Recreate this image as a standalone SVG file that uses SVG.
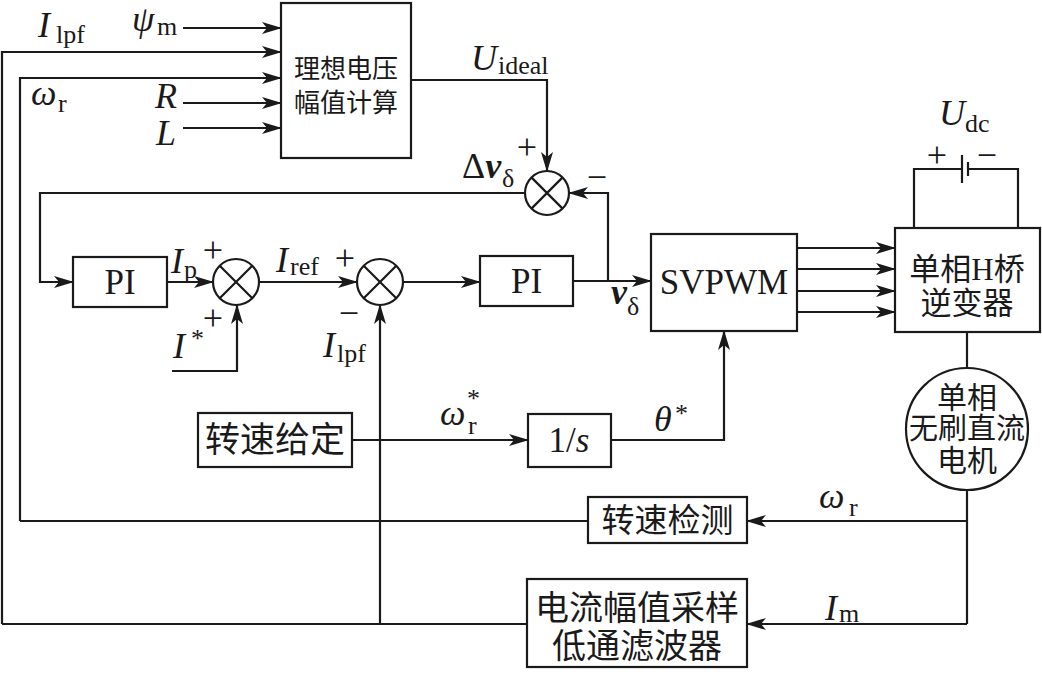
<svg xmlns="http://www.w3.org/2000/svg" width="1042" height="674" viewBox="0 0 1042 674">
<defs>
<style>
.ln{fill:none;stroke:#1a1a1a;stroke-width:2.2}
.box{fill:#fff;stroke:#1a1a1a;stroke-width:2.2}
.arr{fill:none;stroke:#1a1a1a;stroke-width:2.2;marker-end:url(#ah)}
.it{font-family:"Liberation Serif",serif;font-style:italic;font-size:36px;fill:#1a1a1a}
.sub{font-family:"Liberation Serif",serif;font-size:26px;fill:#1a1a1a}
.rm{font-family:"Liberation Serif",serif;font-size:35px;fill:#1a1a1a}
.sg{font-family:"Liberation Serif",serif;font-size:36px;fill:#1a1a1a}
.cn{font-family:"Liberation Serif","Noto Sans CJK SC",serif;fill:#1a1a1a}
</style>
<marker id="ah" viewBox="0 0 20 12" refX="19" refY="6" markerWidth="20" markerHeight="12" markerUnits="userSpaceOnUse" orient="auto">
<path d="M0,0 L20,6 L0,12 L5,6 z" fill="#1a1a1a"/>
</marker>
</defs>
<rect width="1042" height="674" fill="#fff"/>

<g id="connectors">
<line class="arr" x1="183" y1="28" x2="281" y2="28"/>
<polyline class="arr" points="2,624 2,52 281,52"/>
<polyline class="arr" points="20,521 20,78 281,78"/>
<line class="arr" x1="183" y1="103" x2="281" y2="103"/>
<line class="arr" x1="183" y1="128" x2="281" y2="128"/>
<polyline class="arr" points="411,80 547,80 547,171"/>
<polyline class="arr" points="608,281 608,193 569,193"/>
<polyline class="arr" points="525,193 40,193 40,282 73,282"/>
<line class="arr" x1="167" y1="282" x2="213" y2="282"/>
<polyline class="arr" points="172,371 237,371 237,305"/>
<line class="arr" x1="259" y1="282" x2="357" y2="282"/>
<polyline class="arr" points="2,624 380,624 380,305"/>
<line class="arr" x1="403" y1="282" x2="480" y2="282"/>
<line class="arr" x1="573" y1="281" x2="651" y2="281"/>
<line class="arr" x1="797" y1="248" x2="895" y2="248"/>
<line class="arr" x1="797" y1="269" x2="895" y2="269"/>
<line class="arr" x1="797" y1="291" x2="895" y2="291"/>
<line class="arr" x1="797" y1="312" x2="895" y2="312"/>
<polyline class="ln" points="914,228 914,169 962,169"/>
<polyline class="ln" points="968,169 1018,169 1018,228"/>
<line class="ln" x1="962" y1="155" x2="962" y2="183"/>
<line class="ln" x1="968" y1="162" x2="968" y2="176"/>
<line class="ln" x1="967" y1="332" x2="967" y2="368"/>
<polyline class="ln" points="967,490 967,624"/>
<line class="arr" x1="967" y1="521" x2="747" y2="521"/>
<line class="arr" x1="967" y1="624" x2="747" y2="624"/>
<polyline class="ln" points="588,521 20,521"/>
<line class="ln" x1="527" y1="624" x2="380" y2="624"/>
<line class="arr" x1="352" y1="440" x2="528" y2="440"/>
<polyline class="arr" points="611,440 724,440 724,331"/>
</g>

<g id="ideal-voltage">
<rect class="box" x="281" y="3" width="130" height="155"/>
<text class="cn" x="346" y="78" font-size="26" text-anchor="middle">理想电压</text>
<text class="cn" x="346" y="112" font-size="26" text-anchor="middle">幅值计算</text>
</g>

<g id="summer3">
<circle class="box" cx="547" cy="193" r="22"/>
<path class="ln" d="M531.4,177.4 L562.6,208.6 M562.6,177.4 L531.4,208.6"/>
</g>
<g id="summer1">
<circle class="box" cx="236" cy="282" r="23"/>
<path class="ln" d="M219.7,265.7 L252.3,298.3 M252.3,265.7 L219.7,298.3"/>
</g>
<g id="summer2">
<circle class="box" cx="380" cy="282" r="23"/>
<path class="ln" d="M363.7,265.7 L396.3,298.3 M396.3,265.7 L363.7,298.3"/>
</g>

<g id="pi1">
<rect class="box" x="73" y="257" width="94" height="50"/>
<text class="rm" x="120" y="294" text-anchor="middle">PI</text>
</g>
<g id="pi2">
<rect class="box" x="480" y="256" width="93" height="50"/>
<text class="rm" x="526.5" y="293" text-anchor="middle">PI</text>
</g>
<g id="svpwm">
<rect class="box" x="651" y="234" width="146" height="97"/>
<text class="rm" x="724" y="294" text-anchor="middle">SVPWM</text>
</g>
<g id="inverter">
<rect class="box" x="895" y="228" width="145" height="104"/>
<text class="cn" x="967" y="280" font-size="31" text-anchor="middle">单相H桥</text>
<text class="cn" x="967" y="314" font-size="31" text-anchor="middle">逆变器</text>
</g>
<g id="motor">
<circle class="box" cx="967" cy="429" r="61"/>
<text class="cn" x="967" y="408" font-size="30" text-anchor="middle">单相</text>
<text class="cn" x="967" y="439" font-size="29" text-anchor="middle">无刷直流</text>
<text class="cn" x="967" y="471" font-size="30" text-anchor="middle">电机</text>
</g>
<g id="speed-set">
<rect class="box" x="198" y="413" width="154" height="54"/>
<text class="cn" x="275" y="452" font-size="35" text-anchor="middle">转速给定</text>
</g>
<g id="integrator">
<rect class="box" x="528" y="414" width="83" height="53"/>
<text class="rm" x="569" y="452" text-anchor="middle">1/<tspan font-style="italic">s</tspan></text>
</g>
<g id="speed-detect">
<rect class="box" x="588" y="497" width="159" height="46"/>
<text class="cn" x="667.5" y="532" font-size="33" text-anchor="middle">转速检测</text>
</g>
<g id="current-filter">
<rect class="box" x="527" y="579" width="220" height="88"/>
<text class="cn" x="637" y="620" font-size="34" text-anchor="middle">电流幅值采样</text>
<text class="cn" x="637" y="658" font-size="34" text-anchor="middle">低通滤波器</text>
</g>

<g id="labels">
<text class="it" x="38" y="37">I</text><text class="sub" x="56" y="43">lpf</text>
<text class="it" x="132" y="31">ψ</text><text class="sub" x="157" y="35">m</text>
<text class="it" x="31" y="105">ω</text><text class="sub" x="58" y="112">r</text>
<text class="it" x="155" y="108" font-size="33">R</text>
<text class="it" x="156" y="145" font-size="33">L</text>
<text class="it" x="471" y="70">U</text><text class="sub" x="498" y="74">ideal</text>
<text class="sg" x="527" y="159" text-anchor="middle">+</text>
<text class="it" x="462" y="178"><tspan font-style="normal">Δ</tspan><tspan font-weight="bold">v</tspan></text><text class="sub" x="502" y="187">δ</text>
<text class="sg" x="597" y="189" text-anchor="middle">−</text>
<text class="it" x="171" y="273">I</text><text class="sub" x="184" y="278">p</text>
<text class="sg" x="213" y="262" text-anchor="middle">+</text>
<text class="sg" x="213" y="330" text-anchor="middle">+</text>
<text class="it" x="173" y="358">I</text><text class="sub" x="191" y="347">*</text>
<text class="it" x="276" y="272">I</text><text class="sub" x="290" y="275">ref</text>
<text class="sg" x="345" y="270" text-anchor="middle">+</text>
<text class="sg" x="349" y="325" text-anchor="middle">−</text>
<text class="it" x="323" y="357">I</text><text class="sub" x="337" y="362">lpf</text>
<text class="it" x="611" y="304"><tspan font-weight="bold">v</tspan></text><text class="sub" x="627" y="315">δ</text>
<text class="it" x="440" y="425">ω</text><text class="sub" x="467" y="407">*</text><text class="sub" x="468" y="434">r</text>
<text class="it" x="654" y="431">θ</text><text class="sub" x="675" y="422">*</text>
<text class="it" x="819" y="508">ω</text><text class="sub" x="849" y="516">r</text>
<text class="it" x="825" y="620">I</text><text class="sub" x="839" y="622">m</text>
<text class="it" x="939" y="125">U</text><text class="sub" x="965" y="132">dc</text>
<text class="sg" x="937" y="167" text-anchor="middle" font-size="31">+</text>
<text class="sg" x="987" y="167" text-anchor="middle" font-size="31">−</text>
</g>
</svg>
